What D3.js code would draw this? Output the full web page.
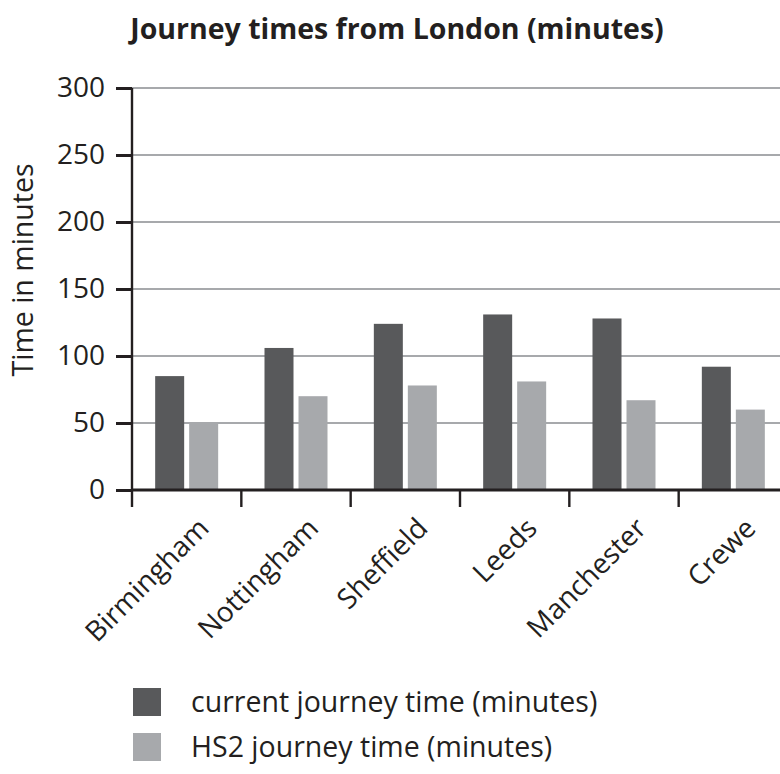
<html>
<head>
<script src="https://d3js.org/d3.v7.min.js"></script>
<style>
  body { margin: 0; background: #fff; }
  text { font-family: "Open Sans", sans-serif; fill: #231f20; }
</style>
</head>
<body>
<script>
var cities = ["Birmingham", "Nottingham", "Sheffield", "Leeds", "Manchester", "Crewe"];
var currentTimes = [85, 106, 124, 131, 128, 92];
var hs2Times = [50, 70, 78, 81, 67, 60];
var yTicks = [0, 50, 100, 150, 200, 250, 300];
var seriesNames = ["current journey time (minutes)", "HS2 journey time (minutes)"];
var colors = ["#58595b", "#a7a9ac"];

var data = cities.map(function(c, i) {
  return {city: c, values: [currentTimes[i], hs2Times[i]]};
});

var svg = d3.select("body").append("svg")
  .attr("width", 780)
  .attr("height", 774);

var plotLeft = 132, plotRight = 788, plotTop = 88, plotBottom = 490;

var x = d3.scaleBand().domain(cities).range([plotLeft, plotRight]);
var y = d3.scaleLinear().domain([0, 300]).range([plotBottom, plotTop]);

// gridlines
svg.append("g").selectAll("line")
  .data(yTicks.slice(1))
  .enter().append("line")
  .attr("x1", plotLeft).attr("x2", 780)
  .attr("y1", function(d) { return y(d); })
  .attr("y2", function(d) { return y(d); })
  .attr("stroke", "#a7a9ac")
  .attr("stroke-width", 2.2);

// bars
var barW = 29, gap = 5;
var groups = svg.append("g").selectAll("g")
  .data(data)
  .enter().append("g")
  .attr("transform", function(d) {
    return "translate(" + (x(d.city) + x.bandwidth() / 2 - barW - gap / 2) + ",0)";
  });

groups.selectAll("rect")
  .data(function(d) { return d.values; })
  .enter().append("rect")
  .attr("x", function(d, i) { return i * (barW + gap); })
  .attr("y", function(d) { return y(d); })
  .attr("width", barW)
  .attr("height", function(d) { return y(0) - y(d); })
  .attr("fill", function(d, i) { return colors[i]; });

// y axis
var yAxis = svg.append("g")
  .attr("transform", "translate(" + plotLeft + ",0)")
  .call(d3.axisLeft(y).tickValues(yTicks).tickSize(16).tickPadding(11));
yAxis.select(".domain").attr("stroke", "#231f20").attr("stroke-width", 2.4)
  .attr("d", "M0," + plotTop + "V" + (plotBottom + 17));
yAxis.selectAll(".tick line").attr("stroke", "#231f20").attr("stroke-width", 3);
yAxis.selectAll(".tick text")
  .style("font-family", "Open Sans, sans-serif")
  .style("font-size", "28px")
  .attr("fill", "#231f20");

// x axis
var xAxis = svg.append("g")
  .attr("transform", "translate(0," + plotBottom + ")");
xAxis.append("line")
  .attr("x1", plotLeft).attr("x2", 780)
  .attr("y1", 0).attr("y2", 0)
  .attr("stroke", "#231f20").attr("stroke-width", 3);
xAxis.selectAll(".xt")
  .data(cities.slice(1))
  .enter().append("line")
  .attr("x1", function(d) { return x(d); })
  .attr("x2", function(d) { return x(d); })
  .attr("y1", 0).attr("y2", 17)
  .attr("stroke", "#231f20").attr("stroke-width", 2.4);
xAxis.selectAll(".xl")
  .data(cities)
  .enter().append("text")
  .attr("text-anchor", "end")
  .attr("transform", function(d) {
    return "translate(" + (x(d) + x.bandwidth() / 2 + 24) + ",40) rotate(-45)";
  })
  .style("font-size", "28px")
  .text(function(d) { return d; });

// axis title
svg.append("text")
  .attr("transform", "translate(33,270) rotate(-90)")
  .attr("text-anchor", "middle")
  .style("font-size", "28.5px")
  .text("Time in minutes");

// title
svg.append("text")
  .attr("x", 397).attr("y", 39)
  .attr("text-anchor", "middle")
  .style("font-size", "28.5px")
  .style("font-weight", "bold")
  .text("Journey times from London (minutes)");

// legend
var legend = svg.append("g").selectAll("g")
  .data(seriesNames)
  .enter().append("g")
  .attr("transform", function(d, i) { return "translate(133," + (688 + i * 45) + ")"; });
legend.append("rect")
  .attr("width", 28).attr("height", 28)
  .attr("fill", function(d, i) { return colors[i]; });
legend.append("text")
  .attr("x", 58).attr("y", 24)
  .style("font-size", "28.5px")
  .text(function(d) { return d; });
</script>
</body>
</html>
